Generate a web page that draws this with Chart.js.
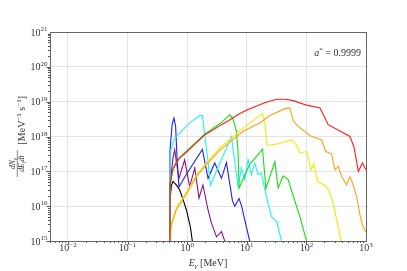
<!DOCTYPE html>
<html>
<head>
<meta charset="utf-8">
<script src="https://cdn.jsdelivr.net/npm/chart.js@4/dist/chart.umd.min.js"></script>
<style>
	html, body { margin: 0; padding: 0; background: #fff; }
	canvas { display: block; }
</style>
</head>
<body>
<canvas id="spectrum" width="407" height="271"></canvas>
<script>
// photon energy [MeV] and log10(dN/dE dt), one pair per curve
var blackE = [0.511, 0.515, 0.545, 0.577, 0.65, 0.748, 0.85, 0.97, 1.13, 1.22];
var blackN = [15, 16.2, 16.6, 16.71, 16.62, 16.47, 16.2, 15.89, 15.41, 15.0];

var purpleE = [0.511, 0.515, 0.58, 0.617, 0.67, 0.728, 0.908, 1.10, 1.34, 1.58, 1.84, 2.24, 2.55, 3.10, 3.76, 4.27];
var purpleN = [15, 16.6, 17.4, 17.62, 17.2, 16.8, 17.33, 16.56, 17.09, 16.23, 16.61, 15.89, 15.52, 15.12, 15.27, 15.0];

var blueE = [0.511, 0.515, 0.56, 0.60, 0.64, 0.68, 0.728, 1.0, 1.80, 2.24, 2.90, 3.76, 4.56, 5.75, 6.3, 7.4, 8.2, 9.25, 11.2];
var blueN = [15, 17.6, 18.35, 18.53, 18.3, 17.3, 16.55, 16.95, 17.63, 16.8, 17.24, 16.8, 17.25, 16.15, 16.0, 16.22, 16.0, 15.6, 15.0];

var cyanE = [0.511, 0.515, 0.528, 0.617, 0.748, 1.10, 1.62, 1.80, 1.97, 2.24, 2.45, 5.53, 5.93, 7.14, 8.15, 9.25, 10.5, 12.0, 13.6, 15.5, 17.6, 20.1, 22.8, 26.0, 31.6, 38.3];
var cyanN = [15, 17.0, 17.6, 17.95, 18.1, 18.39, 18.6, 18.6, 18.05, 17.28, 16.6, 18.0, 17.6, 16.56, 17.09, 16.76, 17.33, 16.9, 17.24, 16.9, 16.95, 16.47, 16.08, 15.7, 15.56, 15.0];

var greenE = [0.511, 0.515, 0.577, 0.748, 1.0, 1.97, 3.76, 5.18, 5.89, 6.71, 7.14, 7.42, 11.2, 14.6, 18.4, 20.9, 29.6, 33.6, 40.8, 49.5, 60.0, 68.4, 77.8, 88.4, 101];
var greenN = [15, 16.6, 17.05, 17.4, 17.6, 18.07, 18.4, 18.63, 18.5, 18.15, 17.57, 16.52, 17.2, 17.43, 17.64, 16.5, 17.28, 16.52, 16.87, 16.76, 16.3, 15.99, 15.7, 15.35, 15.0];

var yellowE = [0.511, 0.528, 0.542, 0.658, 0.97, 1.43, 2.10, 3.52, 8.67, 16.5, 18.4, 20.1, 21.7, 31.6, 56.4, 68.4, 77.8, 101, 119, 133, 156, 205, 239, 282, 322, 383];
var yellowN = [15, 15.3, 15.5, 15.95, 16.4, 16.9, 17.25, 17.67, 18.24, 18.6, 18.66, 18.45, 17.75, 17.78, 17.9, 17.75, 17.52, 17.57, 17.04, 17.22, 16.7, 16.6, 16.45, 16.1, 15.6, 15.0];

var orangeE = [0.511, 0.528, 0.542, 0.658, 0.97, 1.43, 2.10, 3.52, 8.67, 16.5, 24.4, 43.5, 52.8, 60.0, 72.8, 115, 180, 212, 265, 301, 342, 391, 474, 540, 612, 698, 793, 873, 1000];
var orangeN = [15, 15.28, 15.45, 15.9, 16.35, 16.85, 17.2, 17.6, 18.15, 18.39, 18.6, 18.8, 18.82, 18.45, 18.29, 18.02, 17.9, 17.57, 17.5, 17.04, 17.14, 16.85, 16.61, 16.85, 16.6, 16.27, 15.75, 15.45, 15.25];

var redE = [0.511, 0.515, 0.571, 0.65, 0.748, 1.0, 1.3, 1.97, 2.5, 3.76, 5.0, 7.14, 10, 16.5, 20, 31.6, 45, 60.0, 101, 169, 205, 232, 538, 628, 743, 873, 1000];
var redN = [15, 16.6, 17.05, 17.25, 17.38, 17.57, 17.75, 18.05, 18.15, 18.34, 18.46, 18.63, 18.76, 18.91, 18.97, 19.07, 19.07, 19.03, 18.9, 18.82, 18.53, 18.34, 18.0, 17.7, 17.0, 17.24, 17.04];

var xTicks = [0.01, 0.1, 1, 10, 100, 1000];
var xTickExp = ['\u22122', '\u22121', '0', '1', '2', '3'];
var yTicks = [1e15, 1e16, 1e17, 1e18, 1e19, 1e20, 1e21];
var yTickExp = ['15', '16', '17', '18', '19', '20', '21'];

var SERIF = '"Liberation Serif", "DejaVu Serif", serif';

function points(es, ns) {
	return es.map(function(e, i) {
		return { x: e, y: Math.pow(10, ns[i]) };
	});
}

function curve(es, ns, color) {
	return {
		data: points(es, ns),
		borderColor: color,
		borderWidth: 1.1,
		pointRadius: 0,
		fill: false,
		tension: 0
	};
}

// draw a row of text pieces: [text, size, italic, rise]
function drawRuns(ctx, runs, x, y, align) {
	var widths = runs.map(function(r) {
		ctx.font = (r[2] ? 'italic ' : '') + r[1] + 'px ' + SERIF;
		return ctx.measureText(r[0]).width;
	});
	var total = widths.reduce(function(a, b) { return a + b; }, 0);
	var cx = align === 'right' ? x - total : align === 'center' ? x - total / 2 : x;
	ctx.textAlign = 'left';
	ctx.textBaseline = 'alphabetic';
	runs.forEach(function(r, i) {
		ctx.font = (r[2] ? 'italic ' : '') + r[1] + 'px ' + SERIF;
		ctx.fillText(r[0], cx, y - (r[3] || 0));
		cx += widths[i];
	});
}

var decorations = {
	id: 'decorations',
	afterDraw: function(chart) {
		var ctx = chart.ctx,
			area = chart.chartArea,
			xs = chart.scales.x,
			ys = chart.scales.y;

		ctx.save();
		ctx.strokeStyle = '#555';
		ctx.lineWidth = 1;

		// minor and major ticks
		ctx.beginPath();
		for (var d = -3; d <= 2; d++) {
			for (var m = 1; m <= 9; m++) {
				var v = m * Math.pow(10, d);
				if (v < xs.min || v > xs.max) continue;
				var px = Math.round(xs.getPixelForValue(v)) + 0.5;
				ctx.moveTo(px, area.bottom);
				ctx.lineTo(px, area.bottom + (m === 1 ? 3.5 : 2));
			}
		}
		for (var e = 15; e <= 20; e++) {
			for (var k = 1; k <= 9; k++) {
				var py = Math.round(ys.getPixelForValue(k * Math.pow(10, e))) + 0.5;
				ctx.moveTo(area.left, py);
				ctx.lineTo(area.left - (k === 1 ? 3.5 : 2), py);
			}
		}
		ctx.stroke();

		ctx.strokeStyle = '#666';
		ctx.strokeRect(Math.round(area.left) + 0.5, Math.round(area.top) + 0.5,
			Math.round(area.right - area.left), Math.round(area.bottom - area.top));

		ctx.fillStyle = '#333';
		xTicks.forEach(function(v, i) {
			drawRuns(ctx, [['10', 10], [xTickExp[i], 7, false, 4.5]], xs.getPixelForValue(v), area.bottom + 10, 'center');
		});
		yTicks.forEach(function(v, i) {
			drawRuns(ctx, [['10', 10], [yTickExp[i], 7, false, 4.5]], area.left - 2.5, ys.getPixelForValue(v) + 3.5, 'right');
		});

		drawRuns(ctx, [['E', 10, true], ['\u03b3', 7, true, -2], [' [MeV]', 10]], 208, 266, 'center');
		drawRuns(ctx, [['a', 10, true], ['*', 7, false, 4], [' = 0.9999', 10]], 361, 56, 'right');

		// y title, rotated: fraction then units
		ctx.translate(0, 178);
		ctx.rotate(-Math.PI / 2);
		drawRuns(ctx, [['dN', 7.5, true], ['\u03b3', 5.5, true, -1.5]], 14.5, 15, 'center');
		drawRuns(ctx, [['dE', 7.5, true], ['\u03b3', 5.5, true, -1.5], ['dt', 7.5, true]], 14.5, 23.5, 'center');
		ctx.beginPath();
		ctx.lineWidth = 0.6;
		ctx.strokeStyle = '#333';
		ctx.moveTo(1, 17.3);
		ctx.lineTo(28, 17.3);
		ctx.stroke();
		drawRuns(ctx, [[' [MeV', 10], ['\u22121', 7, false, 4.5], [' s', 10], ['\u22121', 7, false, 4.5], [']', 10]], 31, 25, 'left');
		ctx.restore();
	}
};

function decadeTicks(list) {
	return function(scale) {
		scale.ticks = list.map(function(v) { return { value: v }; });
	};
}

new Chart(document.getElementById('spectrum').getContext('2d'), {
	type: 'line',
	data: {
		datasets: [
			curve(redE, redN, '#ff1a1a'),
			curve(orangeE, orangeN, '#ffa01a'),
			curve(yellowE, yellowN, '#f2ea00'),
			curve(greenE, greenN, '#18dd18'),
			curve(cyanE, cyanN, '#22eeff'),
			curve(blueE, blueN, '#2020e6'),
			curve(purpleE, purpleN, '#8a118a'),
			curve(blackE, blackN, '#000000')
		]
	},
	options: {
		responsive: false,
		animation: false,
		devicePixelRatio: 1,
		events: [],
		layout: { padding: { left: 50, top: 32, right: 41, bottom: 30 } },
		plugins: { legend: { display: false }, tooltip: { enabled: false } },
		scales: {
			x: {
				type: 'logarithmic',
				min: 0.005,
				max: 1000,
				afterBuildTicks: decadeTicks(xTicks),
				afterFit: function(s) { s.height = 0; },
				ticks: { display: false },
				border: { display: false },
				grid: { color: '#e4e4e4', lineWidth: 1, drawTicks: false }
			},
			y: {
				type: 'logarithmic',
				min: 1e15,
				max: 1e21,
				afterBuildTicks: decadeTicks(yTicks),
				afterFit: function(s) { s.width = 0; },
				ticks: { display: false },
				border: { display: false },
				grid: { color: '#e4e4e4', lineWidth: 1, drawTicks: false }
			}
		}
	},
	plugins: [decorations]
});
</script>
</body>
</html>
